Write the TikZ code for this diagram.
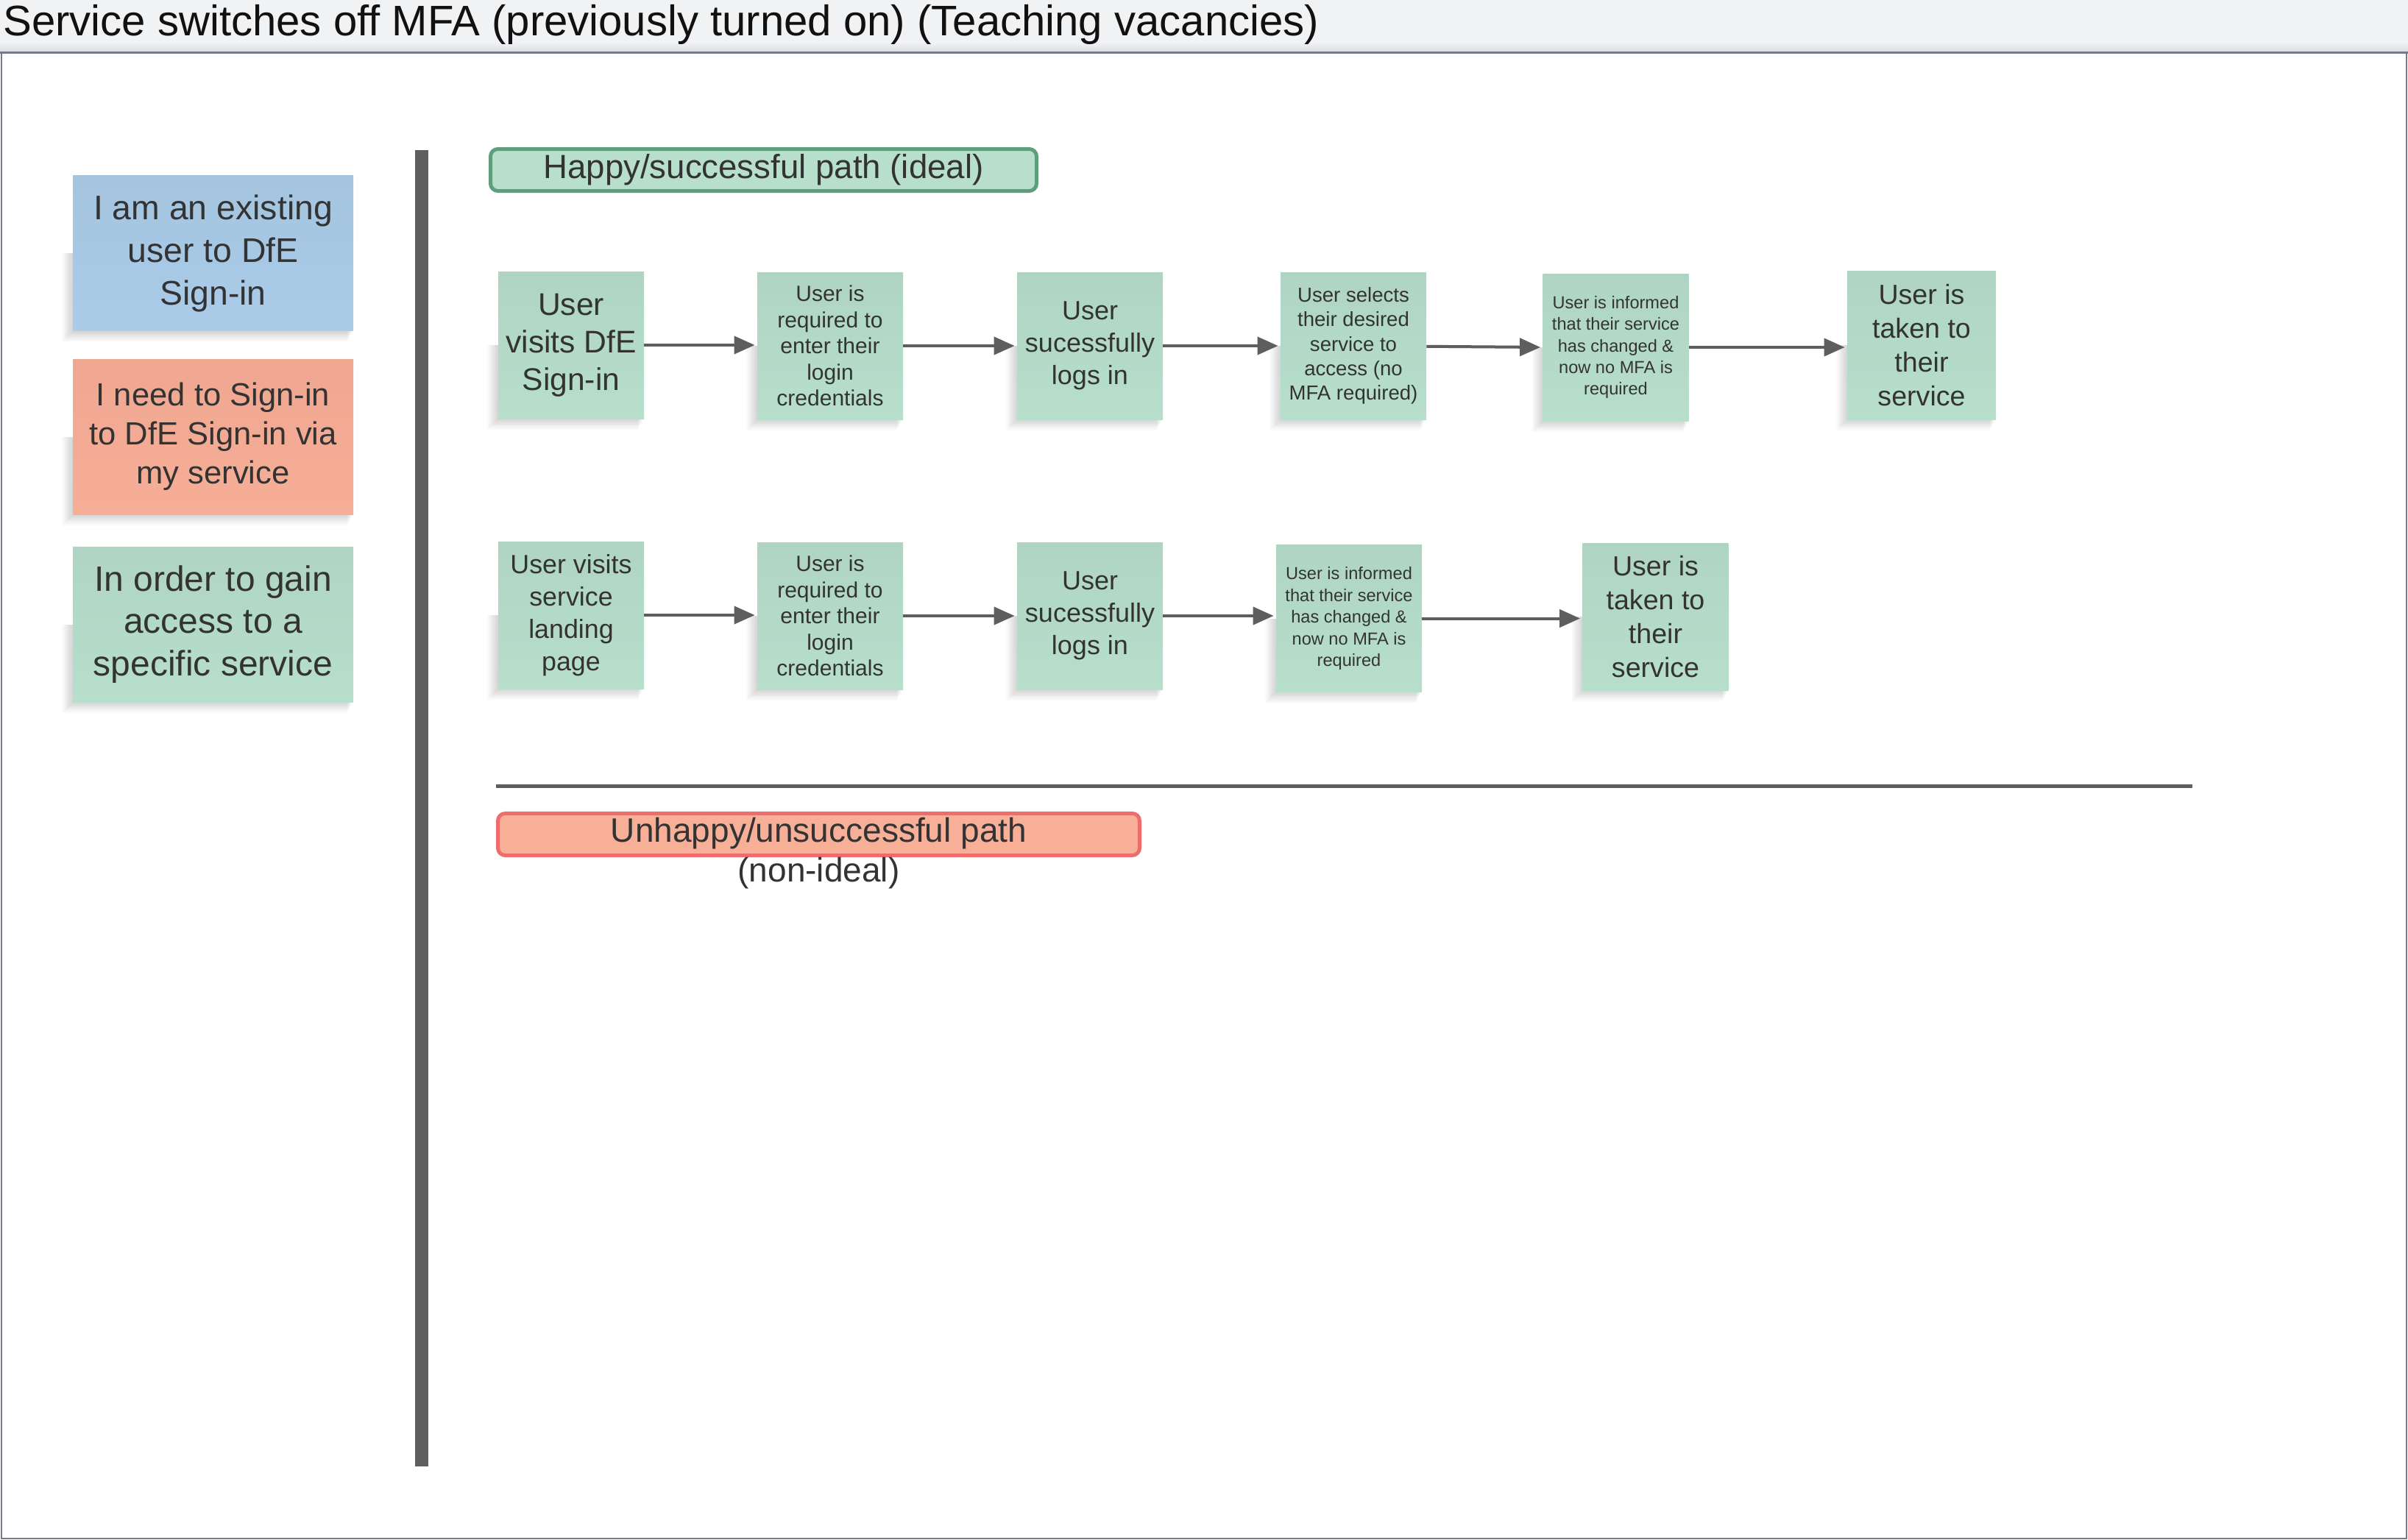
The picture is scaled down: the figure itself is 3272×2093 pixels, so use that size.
\documentclass[tikz,border=0pt]{standalone}
\usepackage{fontspec}
\setmainfont{Liberation Sans}
\usetikzlibrary{arrows.meta}
\definecolor{notegreen}{HTML}{B7DFCB}
\definecolor{notegreentop}{HTML}{AFD4C4}
\definecolor{noteblue}{HTML}{AACCE9}
\definecolor{notebluetop}{HTML}{A4C4DF}
\definecolor{notesalmon}{HTML}{F7AE97}
\definecolor{notesalmontop}{HTML}{EFA791}
\definecolor{txt}{HTML}{333333}
\definecolor{titletext}{HTML}{111111}
\definecolor{darkline}{HTML}{5E5E5E}
\definecolor{framecol}{HTML}{777A88}
\definecolor{titlebg}{HTML}{F1F2F4}
\definecolor{titleshade}{HTML}{DCDDE2}
\definecolor{happyfill}{HTML}{B7DFCB}
\definecolor{happydraw}{HTML}{5F9E7B}
\definecolor{unhappyfill}{HTML}{F7AF98}
\definecolor{unhappydraw}{HTML}{EF6C6C}
\pgfdeclarelayer{bgzero}
\pgfdeclarelayer{shadowlayer}
\pgfsetlayers{bgzero,shadowlayer,main}
\tikzset{
  fs/.style 2 args={font={\fontsize{#1}{#2}\selectfont}},
  sticky/.style={rectangle, inner sep=0pt, align=center, text=txt, minimum width=99pt, minimum height=100pt},
  greennote/.style={sticky, top color=notegreentop, bottom color=notegreen},
  bluenote/.style={sticky, top color=notebluetop, bottom color=noteblue},
  salmonnote/.style={sticky, top color=notesalmontop, bottom color=notesalmon},
  leftnote/.style={minimum width=190.5pt, minimum height=105.5pt},
  pathlabel/.style={rectangle, rounded corners=5pt, line width=2.5pt, inner sep=0pt, minimum height=28.5pt, text=txt, fs={22.8}{27}},
  arr/.style={draw=darkline, line width=2pt, shorten >=1.5pt, -{Triangle[length=14pt,width=12pt]}},
}
\begin{document}
\begin{tikzpicture}[x=0.5pt,y=-0.5pt]
\useasboundingbox (0,0) rectangle (3272,2093);
\begin{pgfonlayer}{bgzero}
  \fill[white] (0,0) rectangle (3272,2093);
  \fill[titlebg] (0,0) rectangle (3272,70);
  \shade[top color=titlebg, bottom color=titleshade] (0,58) rectangle (3272,70);
  \draw[framecol, line width=1pt] (2,71) rectangle (3270,2091);
  \draw[framecol, line width=1.5pt] (0,71) -- (3272,71);
\end{pgfonlayer}

\node[anchor=base west, inner sep=0pt, text=titletext, fs={29.05}{34}] (title) at (4,48)
  {Service switches off MFA (previously turned on) (Teaching vacancies)};

% vertical divider
\fill[darkline] (564,204) rectangle (582,1993);

% persona notes
\node[bluenote, leftnote, fs={23.2}{29}] (blue) at (289.5,344) {I am an existing\\user to DfE\\Sign-in};
\node[salmonnote, leftnote, fs={21.8}{26.4}] (salmon) at (289.5,593.5) {I need to Sign-in\\to DfE Sign-in via\\my service};
\node[greennote, leftnote, fs={24}{28.7}] (green) at (289.5,848.5) {In order to gain\\access to a\\specific service};

% happy path label
\node[pathlabel, draw=happydraw, fill=happyfill, minimum width=371pt] (happy) at (1037.5,231) {Happy/successful path (ideal)};

% row 1
\node[greennote, fs={21.3}{25.5}] (r1a) at (776,469) {User\\visits DfE\\Sign-in};
\node[greennote, fs={15}{17.7}] (r1b) at (1128,470) {User is\\required to\\enter their\\login\\credentials};
\node[greennote, fs={18}{22}] (r1c) at (1481,470) {User\\sucessfully\\logs in};
\node[greennote, fs={13.8}{16.7}] (r1d) at (1839,470) {User selects\\their desired\\service to\\access (no\\MFA required)};
\node[greennote, fs={11.8}{14.7}] (r1e) at (2195.5,472) {User is informed\\that their service\\has changed \&\\now no MFA is\\required};
\node[greennote, fs={18.8}{23}, minimum width=101pt, minimum height=101pt] (r1f) at (2611,469) {User is\\taken to\\their\\service};

% row 2
\node[greennote, fs={17.9}{22}] (r2a) at (776,836) {User visits\\service\\landing\\page};
\node[greennote, fs={15}{17.7}] (r2b) at (1128,837) {User is\\required to\\enter their\\login\\credentials};
\node[greennote, fs={18}{22}] (r2c) at (1481,837) {User\\sucessfully\\logs in};
\node[greennote, fs={11.8}{14.7}] (r2d) at (1833,840.5) {User is informed\\that their service\\has changed \&\\now no MFA is\\required};
\node[greennote, fs={18.8}{23}] (r2e) at (2249.5,838) {User is\\taken to\\their\\service};

% arrows
\draw[arr] (r1a) -- (r1a -| r1b.west);
\draw[arr] (r1b) -- (r1b -| r1c.west);
\draw[arr] (r1c) -- (r1c -| r1d.west);
\draw[arr] (r1d) -- (r1e.west);
\draw[arr] (r1e) -- (r1e -| r1f.west);
\draw[arr] (r2a) -- (r2a -| r2b.west);
\draw[arr] (r2b) -- (r2b -| r2c.west);
\draw[arr] (r2c) -- (r2c -| r2d.west);
\draw[arr] (r2d) -- (r2d -| r2e.west);

% separator
\draw[darkline, line width=2.5pt] (674,1068.5) -- (2979,1068.5);

% unhappy path label
\node[pathlabel, draw=unhappydraw, fill=unhappyfill, minimum width=436pt] (unhappy) at (1112.5,1134) {};
\node[align=center, inner sep=0pt, text=txt, fs={23}{27}] (unhappytext) at (1112.5,1160) {Unhappy/unsuccessful path\\(non-ideal)};

% soft shadows under the sticky notes
\begin{pgfonlayer}{shadowlayer}
  \foreach \n in {blue,salmon,green,r1a,r1b,r1c,r1d,r1e,r1f,r2a,r2b,r2c,r2d,r2e}{
    \foreach \i in {1,...,8}{
      \fill[black, opacity=0.018] ([xshift=-0.9*\i pt, yshift=-0.9*\i pt]\n.south west) rectangle ([xshift=-0.5*\i pt]\n.east);
    }
  }
\end{pgfonlayer}
\end{tikzpicture}
\end{document}
